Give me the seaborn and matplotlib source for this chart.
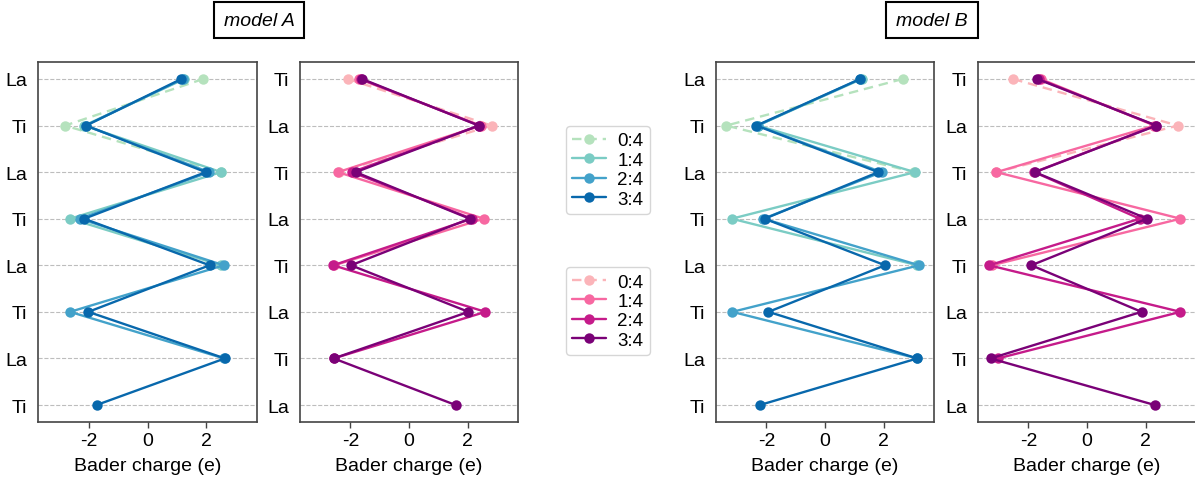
import numpy as np
import matplotlib
matplotlib.use("Agg")
import matplotlib.pyplot as plt
import seaborn as sns

# ---------------- data ----------------
series_labels = ["0:4", "1:4", "2:4", "3:4"]
rows_LaTi = ["La", "Ti", "La", "Ti", "La", "Ti", "La", "Ti"]
rows_TiLa = ["Ti", "La", "Ti", "La", "Ti", "La", "Ti", "La"]

# model A, La-terminated stack (left panel)
a1_04 = [1.89, -2.80, 2.50]
a1_14 = [1.25, -2.15, 2.50, -2.63, 2.50]
a1_24 = [1.20, -2.10, 2.10, -2.30, 2.59, -2.63, 2.60]
a1_34 = [1.15, -2.09, 1.98, -2.15, 2.11, -2.01, 2.63, -1.73]

# model A, Ti-terminated stack (right panel)
a2_04 = [-2.09, 2.82, -2.40]
a2_14 = [-1.70, 2.45, -2.42, 2.55, -2.55]
a2_24 = [-1.65, 2.40, -1.95, 2.15, -2.59, 2.61, -2.57]
a2_34 = [-1.60, 2.38, -1.82, 2.07, -1.98, 2.03, -2.57, 1.59]

# model B, La-terminated stack
b1_04 = [2.65, -3.37, 3.05]
b1_14 = [1.25, -2.30, 3.07, -3.18, 3.15]
b1_24 = [1.20, -2.30, 1.93, -2.10, 3.21, -3.16, 3.15]
b1_34 = [1.20, -2.34, 1.82, -2.06, 2.05, -1.93, 3.15, -2.22]

# model B, Ti-terminated stack
b2_04 = [-2.52, 3.10, -3.10]
b2_14 = [-1.58, 2.30, -3.09, 3.19, -3.25]
b2_24 = [-1.65, 2.35, -1.80, 1.80, -3.34, 3.19, -3.04]
b2_34 = [-1.70, 2.37, -1.78, 2.05, -1.90, 1.86, -3.29, 2.31]

blue_colors = ["#b5e2bd", "#7bccc4", "#43a2ca", "#0868ac"]
pink_colors = ["#fbb4b9", "#f768a1", "#c51b8a", "#7a0177"]

# ---------------- style ----------------
sns.set_theme(style="white")
plt.rcParams["font.family"] = ["Liberation Sans", "DejaVu Sans"]
plt.rcParams["axes.unicode_minus"] = False
plt.rcParams["text.color"] = "black"
plt.rcParams["axes.labelcolor"] = "black"
plt.rcParams["xtick.color"] = "black"
plt.rcParams["ytick.color"] = "black"

W, H = 1195, 485
fig = plt.figure(figsize=(W / 100, H / 100), dpi=100)

def frac_axes(left_px, width_px):
    bottom = 1 - 423 / H
    height = (423 - 63) / H
    return fig.add_axes([left_px / W, bottom, width_px / W, height])

panels = [
    (38, 219, [a1_04, a1_14, a1_24, a1_34], blue_colors, rows_LaTi),
    (300, 218, [a2_04, a2_14, a2_24, a2_34], pink_colors, rows_TiLa),
    (716, 218, [b1_04, b1_14, b1_24, b1_34], blue_colors, rows_LaTi),
    (978, 218, [b2_04, b2_14, b2_24, b2_34], pink_colors, rows_TiLa),
]

all_axes = []
for left, width, series, colors, ylabels in panels:
    ax = frac_axes(left, width)
    for i, (vals, col, lab) in enumerate(zip(series, colors, series_labels)):
        sns.lineplot(x=vals, y=np.arange(len(vals)), sort=False, estimator=None,
                     color=col, marker="o", markersize=7.5, markeredgewidth=0,
                     linewidth=1.7, ax=ax, label=lab)
        ln = ax.lines[-1]
        if i == 0:
            ln.set_linestyle((0, (4, 2.5)))
    if ax.get_legend() is not None:
        ax.get_legend().remove()
    ax.set_ylim(7.365, -0.365)
    ax.set_xlim(-3.72, 3.72)
    ax.set_yticks(range(8))
    ax.set_yticklabels(ylabels)
    ax.set_xticks([-2, 0, 2])
    ax.set_xticklabels(["-2", "0", "2"])
    ax.set_xlabel("Bader charge (e)", fontsize=14, labelpad=6)
    ax.set_ylabel("")
    ax.grid(axis="y", linestyle="--", color="#bdbdbd", linewidth=0.8)
    ax.grid(axis="x", visible=False)
    ax.set_axisbelow(True)
    ax.tick_params(axis="y", length=0, pad=8, labelsize=14)
    ax.tick_params(axis="x", length=4, width=1, color="#444444", pad=3, labelsize=14, bottom=True)
    for sp in ax.spines.values():
        sp.set_visible(True)
        sp.set_color("#444444")
        sp.set_linewidth(1.2)
    all_axes.append(ax)

# legends
h1, l1 = all_axes[0].get_legend_handles_labels()
h2, l2 = all_axes[1].get_legend_handles_labels()
leg_kw = dict(fontsize=13.5, frameon=True, handlelength=1.8, handletextpad=0.6,
              labelspacing=0.12, borderpad=0.35, edgecolor="#cccccc")
fig.legend(h1, l1, loc="center", bbox_to_anchor=(608 / W, 1 - 171 / H), **leg_kw)
fig.legend(h2, l2, loc="center", bbox_to_anchor=(608 / W, 1 - 312 / H), **leg_kw)

# model titles
box = dict(boxstyle="square,pad=0.5", fc="white", ec="black", lw=1.5)
fig.text(259 / W, 1 - 21 / H, "model A", style="italic", fontsize=14,
         ha="center", va="center", bbox=box)
fig.text(932 / W, 1 - 21 / H, "model B", style="italic", fontsize=14,
         ha="center", va="center", bbox=box)

fig.savefig("out.png", dpi=100)
